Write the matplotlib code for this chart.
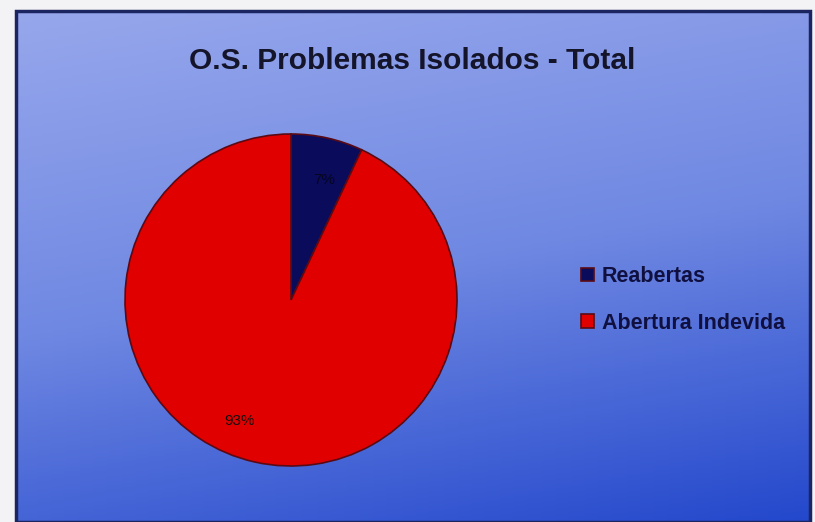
import matplotlib.pyplot as plt
import numpy as np
from matplotlib.colors import LinearSegmentedColormap
from matplotlib.patches import Rectangle

# dados do grafico
categorias = ['Reabertas', 'Abertura Indevida']
valores = [7, 93]
cores = ['#0b0b5c', '#e00000']
titulo = 'O.S. Problemas Isolados - Total'

W, H = 815, 522
fig = plt.figure(figsize=(W / 100, H / 100), dpi=100)
fig.patch.set_facecolor('#f3f3f6')

# fundo com degrade azul
bg = fig.add_axes([16 / W, 0, (810 - 16) / W, (H - 11) / H])
bg.set_axis_off()
gy, gx = np.mgrid[0:1:200j, 0:1:300j]
grad = 0.78 * gy + 0.22 * gx
cmap = LinearSegmentedColormap.from_list('fundo', ['#97a7ec', '#6f88e2', '#2448cc'])
bg.imshow(grad, cmap=cmap, aspect='auto', extent=[0, 1, 0, 1], origin='upper')
bg.add_patch(Rectangle((0, 0), 1, 1, transform=bg.transAxes, fill=False,
                       edgecolor='#1b2560', linewidth=2.5, clip_on=False))

# pizza
cx, cy, r = 291, H - 300, 166
ax = fig.add_axes([(cx - r) / W, (cy - r) / H, 2 * r / W, 2 * r / H])
wedges, textos, pct = ax.pie(valores, colors=cores, startangle=90, counterclock=False,
                             radius=1, autopct='%1.0f%%', pctdistance=0.75,
                             wedgeprops=dict(edgecolor='#5a0a14', linewidth=1.2),
                             textprops=dict(fontsize=11, color='#111111',
                                            family='Liberation Sans'))
ax.set_xlim(-1, 1)
ax.set_ylim(-1, 1)
ax.set_aspect('equal')
ax.set_axis_off()
pct[0].set_color('#05051f')
pct[0].set_position((0.2, 0.72))
pct[1].set_position((-0.31, -0.73))

# titulo
fig.text(412 / W, 1 - 61 / H, titulo, ha='center', va='center', fontsize=21.5,
         fontweight='bold', color='#14142a', family='Liberation Sans')

# legenda
leg = fig.legend(wedges, categorias, loc='center left',
                 bbox_to_anchor=(562 / W, 1 - 300 / H), frameon=False,
                 prop=dict(family='Liberation Sans', size=15.5, weight='bold'),
                 labelcolor='#101040', handlelength=0.6, handleheight=0.6,
                 handletextpad=0.35, labelspacing=1.2)

fig.savefig('out.png', dpi=100, facecolor=fig.get_facecolor())
